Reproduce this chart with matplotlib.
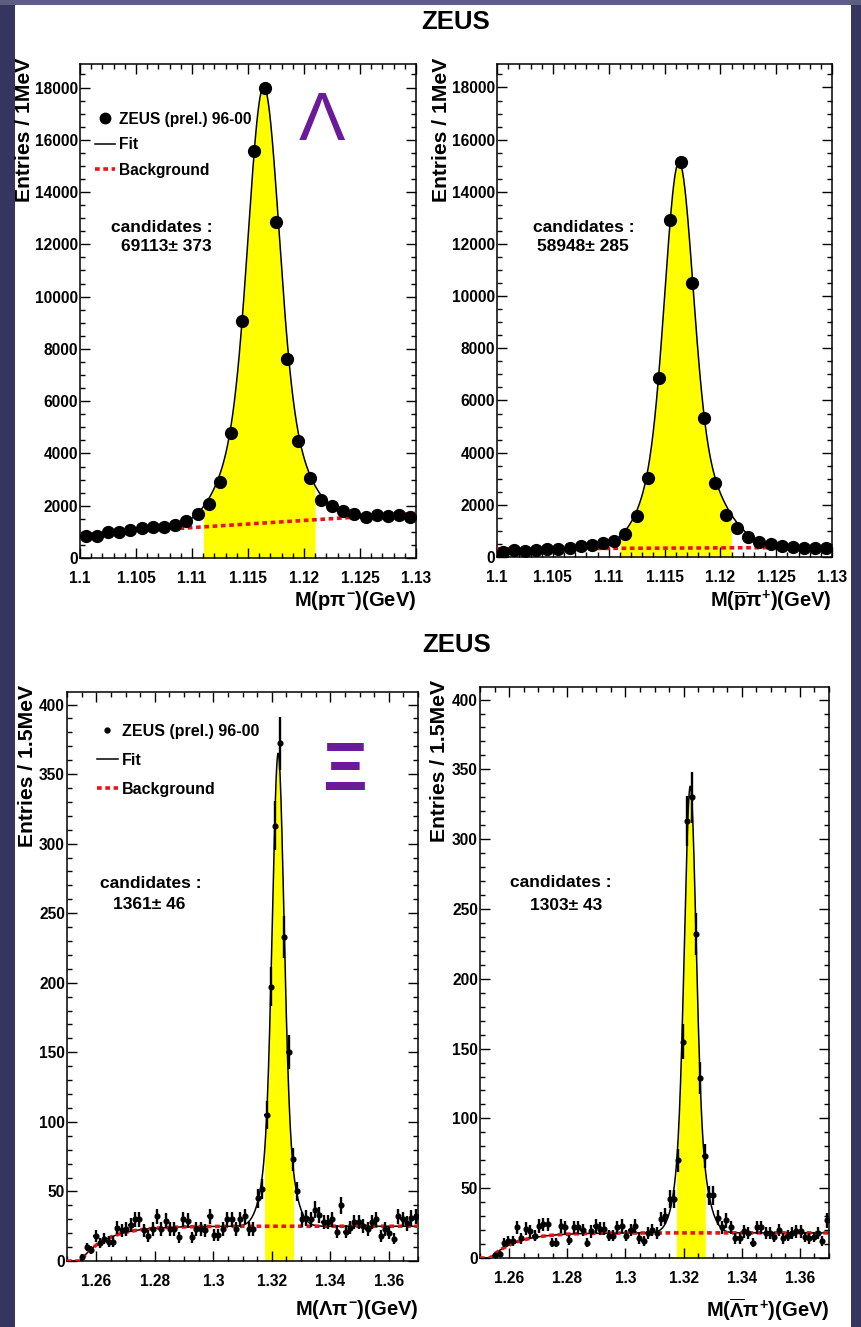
import numpy as np
import matplotlib
matplotlib.use('Agg')
import matplotlib.pyplot as plt
from matplotlib.patches import Rectangle
from matplotlib.lines import Line2D
from matplotlib.ticker import MultipleLocator, FuncFormatter

FAM = ['Liberation Sans', 'DejaVu Sans']
plt.rcParams['font.family'] = FAM
plt.rcParams['font.weight'] = 'bold'
plt.rcParams['mathtext.fontset'] = 'custom'
plt.rcParams['mathtext.rm'] = 'Liberation Sans:bold'
plt.rcParams['mathtext.it'] = 'Liberation Sans:bold'
plt.rcParams['mathtext.bf'] = 'Liberation Sans:bold'

# ---------------- data ----------------
lam_lo, lam_bin = 1.100, 0.001
lam_counts = [860, 850, 980, 1000, 1080, 1130, 1200, 1190, 1270, 1430,
              1690, 2050, 2900, 4780, 9060, 15590, 18000, 12870, 7610, 4470,
              3050, 2230, 1980, 1780, 1680, 1570, 1630, 1600, 1640, 1570]
alam_counts = [210, 270, 220, 270, 315, 290, 360, 410, 450, 535,
               630, 890, 1560, 3020, 6870, 12910, 15130, 10490, 5320, 2840,
               1620, 1110, 780, 590, 480, 410, 370, 360, 345, 345]

xi_lo, xi_bin = 1.250, 0.0015
xi_counts = [0, 0, 0, 3, 10, 8, 18, 13, 16, 14,
             14, 24, 22, 23, 26, 30, 30, 22, 18, 23,
             32, 23, 29, 23, 23, 17, 30, 29, 17, 23,
             23, 22, 32, 19, 19, 23, 30, 30, 23, 30,
             32, 23, 23, 45, 52, 105, 197, 313, 372, 233,
             150, 73, 50, 30, 31, 30, 37, 33, 28, 28,
             30, 21, 40, 21, 24, 28, 28, 25, 23, 28,
             30, 18, 23, 20, 16, 32, 30, 27, 31, 32]
axi_counts = [0, 0, 0, 2, 3, 11, 12, 12, 22, 14,
              21, 19, 16, 23, 24, 24, 11, 11, 23, 22,
              13, 22, 22, 20, 11, 19, 23, 21, 21, 16,
              16, 22, 23, 16, 20, 23, 14, 12, 18, 20,
              18, 28, 30, 42, 42, 70, 155, 313, 330, 232,
              129, 73, 45, 45, 29, 22, 27, 22, 14, 14,
              19, 18, 11, 22, 22, 18, 18, 15, 20, 14,
              16, 18, 19, 19, 15, 14, 15, 18, 12, 27]

# fit parameters (mean, a1, s1, a2, s2 left, s2 right)
lam_peak = (1.1164, 11800, 0.0013, 4900, 0.0028, 0.0028)
alam_peak = (1.1163, 10500, 0.0012, 4300, 0.0025, 0.0030)
xi_peak = (1.3222, 260, 0.0019, 80, 0.0040, 0.0040)
axi_peak = (1.3223, 235, 0.0019, 85, 0.0038, 0.0042)
# backgrounds
lam_bg_ends = (890, 1710)
alam_bg_ends = (310, 370)
xi_bg = (25, 1.2545, 0.009)     # plateau, threshold, rise scale
axi_bg = (18, 1.2535, 0.009)
lam_window = (1.111, 1.121)
xi_window = (1.3175, 1.3275)

cand_text = ['69113± 373', '58948± 285', '1361± 46', '1303± 43']


def peak(x, p):
    m, a1, s1, a2, s2l, s2r = p
    d = x - m
    s2 = np.where(d < 0, s2l, s2r)
    return a1 * np.exp(-0.5 * (d / s1) ** 2) + a2 * np.exp(-0.5 * (d / s2) ** 2)


def lin_bg(x, ends, lo, hi):
    return ends[0] + (ends[1] - ends[0]) * (x - lo) / (hi - lo)


def thr_bg(x, p):
    b, x0, c = p
    return np.where(x > x0, b * (1 - np.exp(-np.clip(x - x0, 0, None) / c)), 0.0)


W, H = 861, 1327
fig = plt.figure(figsize=(W / 100, H / 100), dpi=100)
fig.patch.set_facecolor('#35355f')
fig.patches.append(Rectangle((0, 1 - 5 / H), 1, 5 / H, transform=fig.transFigure,
                             facecolor='#5e5e82', edgecolor='none', zorder=-10))
fig.patches.append(Rectangle((15 / W, 0), (851 - 15) / W, (H - 5) / H,
                             transform=fig.transFigure, facecolor='white',
                             edgecolor='none', zorder=-9))


def px_axes(l, r, t, b):
    return fig.add_axes([l / W, 1 - b / H, (r - l) / W, (b - t) / H])


fmt = FuncFormatter(lambda v, p: f'{v:g}')
RED = '#ee1111'
DASH = (0, (1.3, 1.0))


def style(ax, xmaj, xmin, ymaj, ymin):
    ax.xaxis.set_major_locator(MultipleLocator(xmaj))
    ax.xaxis.set_minor_locator(MultipleLocator(xmin))
    ax.yaxis.set_major_locator(MultipleLocator(ymaj))
    ax.yaxis.set_minor_locator(MultipleLocator(ymin))
    ax.xaxis.set_major_formatter(fmt)
    ax.yaxis.set_major_formatter(fmt)
    ax.tick_params(which='both', direction='in', top=True, right=True, width=1.0)
    ax.tick_params(which='major', length=7.5)
    ax.tick_params(which='minor', length=3.8)
    ax.tick_params(axis='x', pad=9.5, labelsize=11.2)
    ax.tick_params(axis='y', pad=1.5, labelsize=11.2)
    for s in ax.spines.values():
        s.set_linewidth(1.1)


def common_text(ax, xlabel, ylabel, ylx, xly, cand_xy, num_xy, ctext):
    ax.text(1.0, xly, xlabel, transform=ax.transAxes, ha='right', va='center',
            fontsize=14.5)
    ax.text(ylx, 1.012, ylabel, transform=ax.transAxes, rotation=90,
            ha='center', va='top', fontsize=15.2)
    ax.text(cand_xy[0], cand_xy[1], 'candidates :', transform=ax.transAxes,
            ha='center', va='center', fontsize=12.5)
    ax.text(num_xy[0], num_xy[1], ctext, transform=ax.transAxes, ha='center',
            va='center', fontsize=12.5)


def draw_lambda(ax, counts, pk, bg_ends):
    lo, hi = lam_lo, lam_lo + lam_bin * len(counts)
    centers = lam_lo + lam_bin * (np.arange(len(counts)) + 0.5)
    xs = np.linspace(lo, hi, 600)
    fit = peak(xs, pk) + lin_bg(xs, bg_ends, lo, hi)
    win = (xs >= lam_window[0]) & (xs <= lam_window[1])
    ax.fill_between(xs[win], 0, fit[win], color='#ffff00', lw=0, zorder=1)
    ax.plot(xs, fit, color='black', lw=1.1, zorder=2)
    ax.plot(xs, lin_bg(xs, bg_ends, lo, hi), color=RED, lw=2.6, ls=DASH, zorder=3)
    ax.plot(centers, counts, 'o', color='black', ms=8.5, zorder=4)
    ax.set_xlim(lo, hi)
    ax.set_ylim(0, 18900)
    style(ax, 0.005, 0.001, 2000, 500)


def draw_xi(ax, counts, pk, bgp):
    n = len(counts)
    lo, hi = xi_lo, 1.37
    centers = xi_lo + xi_bin * (np.arange(n) + 0.5)
    cnt = np.array(counts, dtype=float)
    xs = np.linspace(lo, hi, 1200)
    fit = peak(xs, pk) + thr_bg(xs, bgp)
    win = (xs >= xi_window[0]) & (xs <= xi_window[1])
    ax.fill_between(xs[win], 0, fit[win], color='#ffff00', lw=0, zorder=1)
    ax.plot(xs, fit, color='black', lw=1.1, zorder=2)
    ax.plot(xs, thr_bg(xs, bgp), color=RED, lw=2.6, ls=DASH, zorder=3)
    m = cnt > 0
    ax.errorbar(centers[m], cnt[m], yerr=np.sqrt(cnt[m]), xerr=xi_bin / 2,
                fmt='o', color='black', ms=3.4, elinewidth=1.7, capsize=0, zorder=4)
    ax.set_xlim(lo, hi)
    ax.set_ylim(0, 409)
    style(ax, 0.02, 0.005, 50, 10)


ax1 = px_axes(80, 416, 64, 558)
draw_lambda(ax1, lam_counts, lam_peak, lam_bg_ends)
common_text(ax1, 'M(p$\\pi^{-}$)(GeV)', 'Entries / 1MeV', -0.165, -0.087,
            (0.244, 0.67), (0.256, 0.631), cand_text[0])

ax2 = px_axes(497, 832, 64, 557)
draw_lambda(ax2, alam_counts, alam_peak, alam_bg_ends)
common_text(ax2, 'M($\\overline{\\rm p}\\pi^{+}$)(GeV)', 'Entries / 1MeV', -0.166,
            -0.089, (0.258, 0.669), (0.256, 0.630), cand_text[1])

ax3 = px_axes(67, 418, 692, 1261)
draw_xi(ax3, xi_counts, xi_peak, xi_bg)
common_text(ax3, 'M($\\Lambda\\pi^{-}$)(GeV)', 'Entries / 1.5MeV', -0.112, -0.086,
            (0.239, 0.664), (0.234, 0.627), cand_text[2])

ax4 = px_axes(480, 829, 687, 1258)
draw_xi(ax4, axi_counts, axi_peak, axi_bg)
common_text(ax4, 'M($\\overline{\\Lambda}\\pi^{+}$)(GeV)', 'Entries / 1.5MeV', -0.115,
            -0.09, (0.232, 0.657), (0.246, 0.618), cand_text[3])


def legend(ax, ms, anchor, fs, spacing):
    h = [Line2D([], [], marker='o', color='black', ls='none', ms=ms),
         Line2D([], [], color='black', lw=1.1),
         Line2D([], [], color=RED, lw=2.6, ls=DASH)]
    ax.legend(h, ['ZEUS (prel.) 96-00', 'Fit', 'Background'], loc='upper left',
              bbox_to_anchor=anchor, frameon=False, handlelength=1.3,
              handletextpad=0.25, labelspacing=spacing, borderaxespad=0,
              borderpad=0, prop={'size': fs, 'weight': 'bold'})


legend(ax1, 7.5, (0.045, 0.903), 11.2, 0.67)
legend(ax3, 3.5, (0.085, 0.944), 11.5, 0.87)

# hand-drawn particle symbols
ax1.text(0.72, 0.882, 'Λ', transform=ax1.transAxes, ha='center', va='center',
         fontsize=50, color='#6a1b9a', fontweight='normal')
ax3.text(0.79, 0.86, 'Ξ', transform=ax3.transAxes, ha='center', va='center',
         fontsize=50, color='#6a1b9a', fontweight='bold')

fig.text(456 / W, 1 - 22 / H, 'ZEUS', ha='center', va='center', fontsize=18.5)
fig.text(457 / W, 1 - 645 / H, 'ZEUS', ha='center', va='center', fontsize=18.5)

fig.savefig('out.png', dpi=100, facecolor=fig.get_facecolor())
